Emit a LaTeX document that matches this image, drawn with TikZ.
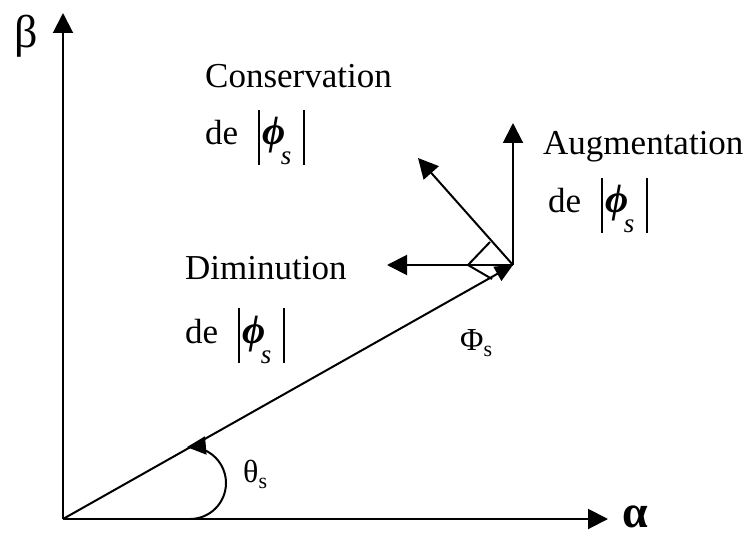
\documentclass[tikz,border=0pt]{standalone}
\usepackage{fontspec}
\setmainfont{Liberation Serif}
\usetikzlibrary{arrows.meta}
\newcommand{\magbar}{\rule[-20pt]{1.6pt}{55pt}}
\newcommand{\fluxmag}{\hspace{20pt}\magbar\hspace{3pt}{\fontsize{40}{40}\selectfont\bfseries\itshape ϕ}\hspace{-5pt}\raisebox{-20pt}{\fontsize{27}{27}\selectfont\itshape s}\hspace{12pt}\magbar}
\begin{document}
\begin{tikzpicture}[x=1pt,y=1pt,
  vec/.style={line width=2pt,-{Triangle[length=20pt,width=20pt]}},
  mainvec/.style={line width=2pt,-{Triangle[length=18pt,width=16pt]}},
  thin line/.style={line width=2pt},
  lbl/.style={anchor=base west,inner sep=0pt,font=\fontsize{35}{40}\selectfont}]
\useasboundingbox (0,0) rectangle (743,533);
% points
\coordinate (O) at (63,14);
\coordinate (Btip) at (63,520);
\coordinate (Atip) at (608,14);
\coordinate (V) at (513,268);
\coordinate (Up) at (513,410);
\coordinate (Left) at (387,268);
\coordinate (Diag) at (418,375);
\coordinate (Ra1) at (490,291);
\coordinate (Ra2) at (468,268);
\coordinate (Ra3) at (492,254);
\coordinate (ArcS) at (190,14);
% axes
\draw[vec] (O) -- (Btip);
\draw[vec] (O) -- (Atip);
% flux vector
\draw[mainvec] (O) -- (V);
% variation vectors
\draw[vec] (V) -- (Up);
\draw[vec] (V) -- (Left);
\draw[vec] (V) -- (Diag);
\draw[thin line] (Ra1) -- (Ra2) -- (Ra3);
% angle arc
\draw[vec,-{Triangle[length=19pt,width=18pt]}] (ArcS) arc[start angle=-90,end angle=95,radius=36];
% labels
\node[anchor=center,inner sep=0pt,font=\fontsize{46}{50}\selectfont] (beta) at (26,497) {β};
\node[anchor=base,inner sep=0pt,font=\fontsize{46}{50}\selectfont\bfseries] (alpha) at (635,6) {α};
\node[lbl] (cons) at (205,445) {Conservation};
\node[lbl] (consde) at (205,388) {de\fluxmag};
\node[lbl] (aug) at (543,378) {Augmentation};
\node[lbl] (augde) at (548,320) {de\fluxmag};
\node[lbl] (dim) at (185,253) {Diminution};
\node[lbl] (dimde) at (185,190) {de\fluxmag};
\node[lbl,font=\fontsize{32}{36}\selectfont] (phi) at (460,183) {Φ\raisebox{-0.2em}{\fontsize{22}{22}\selectfont s}};
\node[lbl,font=\fontsize{32}{36}\selectfont] (theta) at (243,51) {θ\raisebox{-0.2em}{\fontsize{22}{22}\selectfont s}};
\end{tikzpicture}
\end{document}
